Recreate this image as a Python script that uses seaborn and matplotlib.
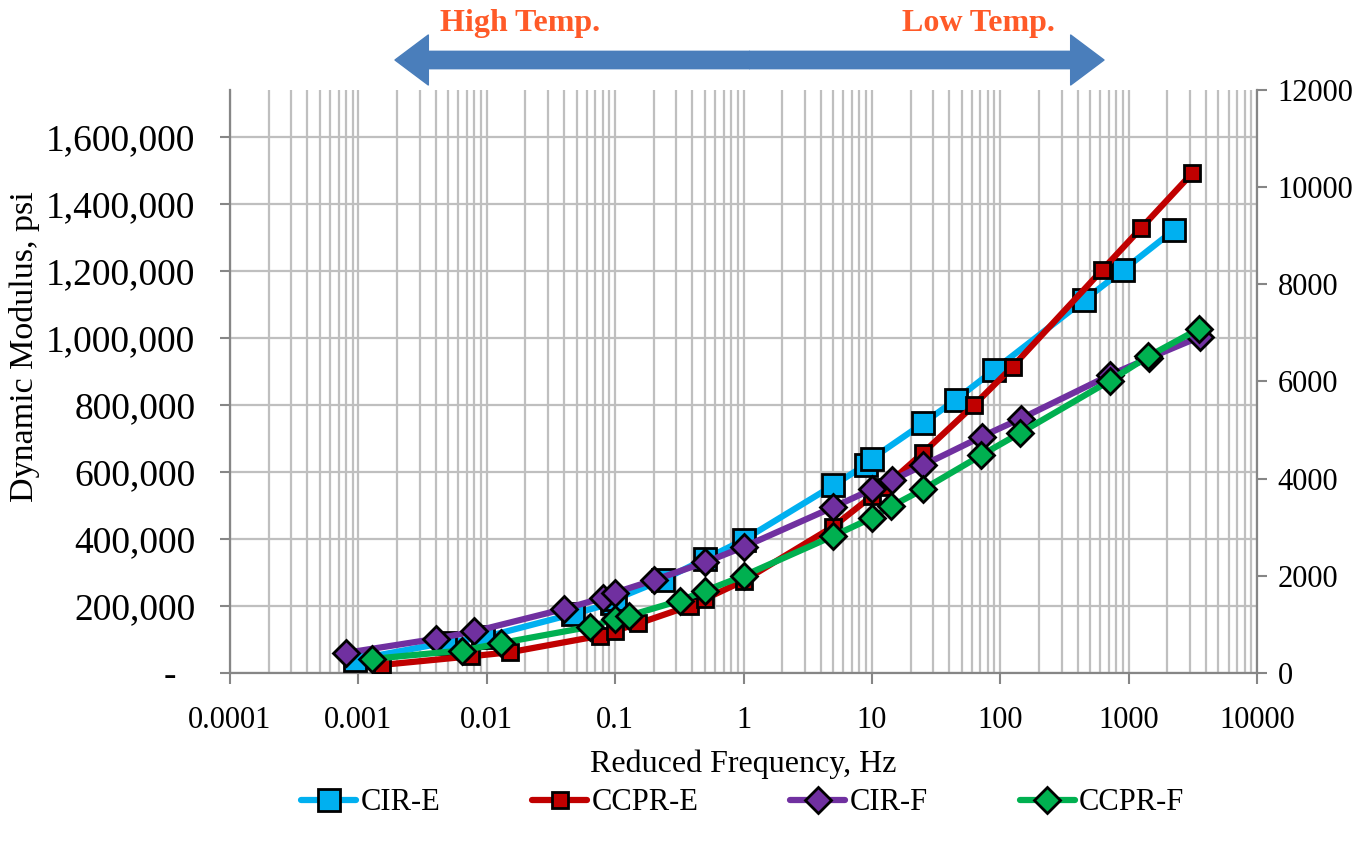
import numpy as np
import pandas as pd
import matplotlib
matplotlib.use("Agg")
import matplotlib.pyplot as plt
import seaborn as sns
from matplotlib.ticker import FuncFormatter, LogLocator, NullFormatter
from matplotlib.patches import FancyArrowPatch

# reduced frequency (Hz) and dynamic modulus (psi)
cir_e_freq = [0.00094, 0.0047, 0.0094, 0.047, 0.094, 0.1, 0.235, 0.5, 1, 5, 9, 10, 25, 45, 90, 450, 900, 2250]
cir_e_psi = [40000, 90000, 106000, 176000, 208000, 220000, 278000, 340000, 397000, 560000, 622000, 640000, 745000, 816000, 905000, 1113000, 1202000, 1322000]

ccpr_e_freq = [0.00152, 0.0076, 0.0152, 0.076, 0.1, 0.152, 0.38, 0.5, 1, 5, 10, 12.5, 25, 62.5, 125, 625, 1250, 3125]
ccpr_e_psi = [24000, 50000, 62000, 111000, 126000, 148000, 200000, 221000, 275000, 437000, 528000, 555000, 657000, 800000, 915000, 1204000, 1328000, 1492000]

cir_f_freq = [0.0008, 0.004, 0.008, 0.04, 0.08, 0.1, 0.2, 0.5, 1, 5, 10, 14.4, 25, 72, 144, 720, 1440, 3600]
cir_f_psi = [60000, 102000, 124000, 191000, 224000, 240000, 277000, 330000, 376000, 495000, 548000, 575000, 620000, 706000, 759000, 890000, 940000, 1004000]

ccpr_f_freq = [0.00128, 0.0064, 0.0128, 0.064, 0.1, 0.128, 0.32, 0.5, 1, 5, 10, 14.2, 25, 71, 142, 710, 1420, 3550]
ccpr_f_psi = [42000, 67000, 89000, 138000, 161000, 171000, 216000, 245000, 290000, 409000, 463000, 498000, 548000, 650000, 716000, 872000, 945000, 1028000]

left_ticks = [0, 200000, 400000, 600000, 800000, 1000000, 1200000, 1400000, 1600000]
right_ticks = [0, 2000, 4000, 6000, 8000, 10000, 12000]
PSI_PER_MPA = 145.0377

sns.set_style("white")
plt.rcParams["font.family"] = ["Liberation Serif", "DejaVu Serif"]

fig = plt.figure(figsize=(13.66, 8.43), dpi=100)
ax = fig.add_axes([0.1684, 0.2017, 0.7518, 0.6915])

series = [
    ("CIR-E", cir_e_freq, cir_e_psi, "#00B0F0", "s", 16),
    ("CCPR-E", ccpr_e_freq, ccpr_e_psi, "#C00000", "s", 12),
    ("CIR-F", cir_f_freq, cir_f_psi, "#7030A0", "D", 13),
    ("CCPR-F", ccpr_f_freq, ccpr_f_psi, "#00B050", "D", 13),
]
for i, (name, f, p, c, m, ms) in enumerate(series):
    df = pd.DataFrame({"freq": f, "psi": p})
    sns.lineplot(data=df, x="freq", y="psi", ax=ax, color=c, marker=m, markersize=ms,
                 markeredgecolor="black", markeredgewidth=2, linewidth=4.5,
                 label=name, estimator=None, sort=True, zorder=3 + i)

handles, labels = ax.get_legend_handles_labels()
if ax.get_legend() is not None:
    ax.get_legend().remove()

ax.set_xscale("log")
ax.set_xlim(1e-4, 1e4)
ax.set_ylim(0, 12000 * PSI_PER_MPA)
ax.xaxis.set_major_locator(LogLocator(base=10, numticks=20))
ax.xaxis.set_minor_locator(LogLocator(base=10, subs=np.arange(2, 10), numticks=100))
ax.xaxis.set_major_formatter(FuncFormatter(lambda v, _: f"{v:g}"))
ax.xaxis.set_minor_formatter(NullFormatter())
ax.set_yticks(left_ticks)
ax.yaxis.set_major_formatter(FuncFormatter(lambda v, _: "-  " if v == 0 else f"{v:,.0f}"))

ax.grid(which="major", axis="both", color="#BFBFBF", linewidth=1.6)
ax.grid(which="minor", axis="x", color="#BFBFBF", linewidth=1.6)
ax.set_axisbelow(True)

for side in ["left", "bottom", "right"]:
    ax.spines[side].set_color("#868686")
    ax.spines[side].set_linewidth(1.6)
ax.spines["top"].set_visible(False)

ax.tick_params(axis="x", which="major", direction="out", length=8, width=1.5, color="#868686",
               labelsize=22, labelcolor="black", pad=16, bottom=True)
ax.tick_params(axis="x", which="minor", length=0)
ax.tick_params(axis="y", which="major", direction="out", length=7, width=1.5, color="#868686",
               labelsize=27, labelcolor="black", pad=18, left=True)

ax.set_xlabel("Reduced Frequency, Hz", fontsize=23, labelpad=10, color="black")
ax.set_ylabel("Dynamic Modulus, psi", fontsize=24.5, color="black")
ax.yaxis.set_label_coords(-0.185, 0.56)

ax2 = ax.twinx()
ax2.set_ylim(0, 12000)
ax2.set_yticks(right_ticks)
ax2.yaxis.set_major_formatter(FuncFormatter(lambda v, _: f"{v:.0f}"))
ax2.tick_params(axis="y", direction="out", length=7, width=1.5, color="#868686", labelsize=22,
                labelcolor="black", pad=8, right=True)
for side in ["left", "bottom", "right", "top"]:
    ax2.spines[side].set_visible(False)
ax2.grid(False)

# temperature arrow above the plot
arrow_y = 1 - 60 / 843
mid_x = 0.5487
for end_x in [395 / 1366, 1104 / 1366]:
    arr = FancyArrowPatch((mid_x, arrow_y), (end_x, arrow_y), transform=fig.transFigure,
                          arrowstyle="simple,head_length=2.4,head_width=3.6,tail_width=1.25",
                          mutation_scale=10, color="#4A7EBB", shrinkA=0, shrinkB=0)
    fig.patches.append(arr)
fig.text(440 / 1366, 1 - 24 / 843, "High Temp.", fontsize=23, fontweight="bold", color="#FF5A28",
         ha="left", va="center")
fig.text(902 / 1366, 1 - 24 / 843, "Low Temp.", fontsize=23, fontweight="bold", color="#FF5A28",
         ha="left", va="center")

fig.legend(handles, labels, loc="center", bbox_to_anchor=(0.5437, 1 - 803 / 843), ncol=4,
           frameon=False, fontsize=22, handlelength=1.8, handletextpad=0.15, columnspacing=3.0,
           labelcolor="black")

fig.savefig("out.png", dpi=100)
